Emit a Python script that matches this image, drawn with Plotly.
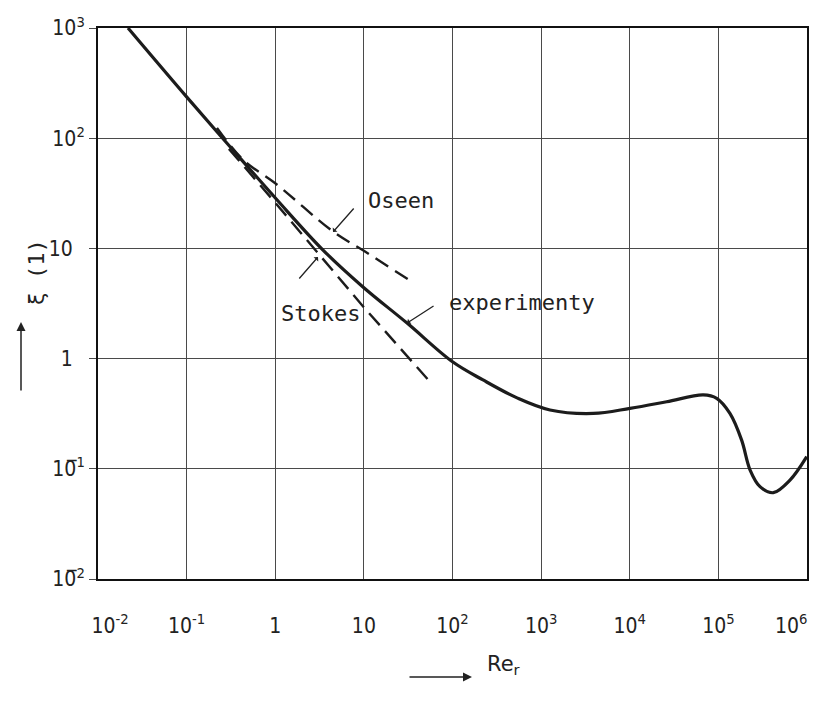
import plotly.graph_objects as go

# ---- data ----
exp_re = [0.0218, 0.1, 0.333, 1.05, 3.46, 9.77, 30.7, 101, 221, 535, 1259, 3880,
          10070, 26100, 67600, 95700, 135000, 183000, 228000, 295000, 417000, 643000, 993000]
exp_val = [1000, 237, 78.2, 27.5, 9.66, 4.47, 2.10, 0.93, 0.64, 0.44, 0.342, 0.318,
           0.354, 0.406, 0.468, 0.436, 0.318, 0.182, 0.0975, 0.0689, 0.0607, 0.079, 0.129]

stokes_re = [0.3, 1.0, 9.86, 53.3]
stokes_val = [80, 26, 2.96, 0.64]

oseen_re = [0.22, 0.44, 1.0, 4.5, 10, 32]
oseen_val = [124, 63, 39, 14.2, 9.5, 5.2]

FS = "\u2007"  # figure space used only to nudge edge labels
x_tickvals = [1e-2, 1e-1, 1, 10, 1e2, 1e3, 1e4, 1e5, 1e6]
x_ticktext = [FS * 2 + "10<sup>-2</sup>", "10<sup>-1</sup>", "1", "10", "10<sup>2</sup>",
              "10<sup>3</sup>", "10<sup>4</sup>", "10<sup>5</sup>", "10<sup>6</sup>" + FS * 2 + "\u2009\u2009"]
y_tickvals = [1e-2, 1e-1, 1, 10, 1e2, 1e3]
y_ticktext = ["10\u0305<sup>2</sup>", "10\u0305<sup>1</sup>", "1" + FS, "10" + FS,
              "10<sup>2</sup>", "10<sup>3</sup>"]

LINE = "#1c1c1c"
GRID = "#4a4a4a"
TICKFONT = dict(family="Liberation Sans Narrow, DejaVu Sans Condensed, DejaVu Sans", size=21, color="#222")
MONO = dict(family="DejaVu Sans Mono", size=22, color="#222")

# page body has an 8px margin; plot area targeted at x 98..807, y 28..579 on screen
W, H = 809, 693
L, R, T, B = 90, 10, 20, 122
PW, PH = W - L - R, H - T - B


def px(sx):
    return (sx - 8 - L) / PW


def py(sy):
    return (H - B - (sy - 8)) / PH


fig = go.Figure()
fig.add_trace(go.Scatter(x=oseen_re, y=oseen_val, mode="lines", line_shape="spline",
                         line=dict(color=LINE, width=2.4, dash="15px,8px"), showlegend=False))
fig.add_trace(go.Scatter(x=stokes_re, y=stokes_val, mode="lines",
                         line=dict(color=LINE, width=2.4, dash="16px,8px"), showlegend=False))
fig.add_trace(go.Scatter(x=exp_re, y=exp_val, mode="lines", line_shape="spline",
                         line=dict(color=LINE, width=3.2), showlegend=False))

fig.update_xaxes(type="log", range=[-2, 6], tickvals=x_tickvals, ticktext=x_ticktext,
                 showgrid=True, gridcolor=GRID, gridwidth=1.3, ticks="",
                 showline=True, linecolor="#111", linewidth=2, mirror=True,
                 tickfont=TICKFONT, ticklabelstandoff=27, ticklabeloverflow="allow",
                 zeroline=False, automargin=False)
fig.update_yaxes(type="log", range=[-2, 3], tickvals=y_tickvals, ticktext=y_ticktext,
                 showgrid=True, gridcolor=GRID, gridwidth=1.3, ticks="outside", ticklen=7,
                 tickcolor=GRID, tickwidth=1.3,
                 showline=True, linecolor="#111", linewidth=2, mirror=True,
                 tickfont=TICKFONT, zeroline=False, automargin=False)

ann = []
# curve labels
ann.append(dict(x=1.419, y=1.439, xref="x", yref="y", text="Oseen", showarrow=False, font=MONO))
ann.append(dict(x=0.505, y=0.405, xref="x", yref="y", text="Stokes", showarrow=False, font=MONO))
ann.append(dict(x=2.784, y=0.505, xref="x", yref="y", text="experimenty", showarrow=False, font=MONO))
# leader lines
ann.append(dict(x=0.652, y=1.149, xref="x", yref="y", text="", showarrow=True, ax=22, ay=-25,
                arrowhead=1, arrowsize=0.8, arrowwidth=1.3, arrowcolor="#222"))
ann.append(dict(x=0.482, y=0.922, xref="x", yref="y", text="", showarrow=True, ax=-20, ay=23,
                arrowhead=1, arrowsize=0.8, arrowwidth=1.3, arrowcolor="#222"))
ann.append(dict(x=1.487, y=0.323, xref="x", yref="y", text="", showarrow=True, ax=28, ay=-18,
                arrowhead=1, arrowsize=0.8, arrowwidth=1.3, arrowcolor="#222"))
# axis titles
ann.append(dict(x=px(21), y=py(273), xref="paper", yref="paper", text="ξ (1)", textangle=-90,
                showarrow=False, font=dict(family="DejaVu Sans Mono", size=22, color="#222")))
ann.append(dict(x=px(21), y=py(322), xref="paper", yref="paper", text="", showarrow=True,
                ax=0, ay=70, arrowhead=2, arrowsize=1.2, arrowwidth=1.5, arrowcolor="#222"))
ann.append(dict(x=px(472), y=py(677), xref="paper", yref="paper", text="",
                showarrow=True, ax=-64, ay=0, arrowhead=2, arrowsize=1.2, arrowwidth=1.5,
                arrowcolor="#222"))
ann.append(dict(x=px(485), y=py(680), xref="paper", yref="paper",
                text="Re<sub>r</sub>", xanchor="left", showarrow=False,
                font=dict(family="DejaVu Sans", size=21, color="#222")))

fig.update_layout(width=W, height=H, margin=dict(l=L, r=R, t=T, b=B),
                  paper_bgcolor="white", plot_bgcolor="white", annotations=ann)

fig.write_html("out.html")
